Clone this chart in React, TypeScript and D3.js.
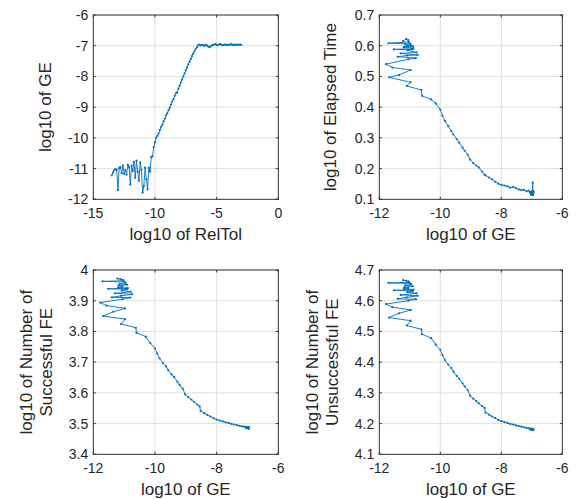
import React from 'react';
import * as d3 from 'd3';

// log10 of RelTol (x of the first panel)
const relTol = [
  -13.5, -13.4, -13.3, -13.2, -13.1, -13.0, -12.9, -12.8, -12.7, -12.6,
  -12.5, -12.4, -12.3, -12.2, -12.1, -12.0, -11.9, -11.8, -11.7, -11.6,
  -11.5, -11.4, -11.3, -11.2, -11.1, -11.0, -10.9, -10.8, -10.7, -10.6,
  -10.5, -10.4, -10.3, -10.2, -10.1, -10.0, -9.9, -9.8, -9.7, -9.6,
  -9.5, -9.4, -9.3, -9.2, -9.1, -9.0, -8.9, -8.8, -8.7, -8.6,
  -8.5, -8.4, -8.3, -8.2, -8.1, -8.0, -7.9, -7.8, -7.7, -7.6,
  -7.5, -7.4, -7.3, -7.2, -7.1, -7.0, -6.9, -6.8, -6.7, -6.6,
  -6.5, -6.4, -6.3, -6.2, -6.1, -6.0, -5.9, -5.8, -5.7, -5.6,
  -5.5, -5.4, -5.3, -5.2, -5.1, -5.0, -4.9, -4.8, -4.7, -4.6,
  -4.5, -4.4, -4.3, -4.2, -4.1, -4.0, -3.9, -3.8, -3.7, -3.6,
  -3.5, -3.4, -3.3, -3.2, -3.1, -3.0,
];

// log10 of GE
const logGE = [
  -11.22, -11.12, -11.05, -11.02, -11.04, -11.70, -10.98, -10.95, -11.15, -10.90,
  -11.18, -11.05, -11.20, -10.88, -10.95, -11.52, -10.90, -11.08, -10.78, -11.30,
  -10.74, -11.10, -11.40, -10.80, -11.05, -11.78, -11.57, -10.97, -11.35, -11.68,
  -10.97, -11.10, -10.62, -10.60, -10.30, -10.15, -10.00, -9.93, -9.85, -9.74,
  -9.64, -9.57, -9.46, -9.38, -9.27, -9.20, -9.10, -9.02, -8.92, -8.82,
  -8.74, -8.63, -8.55, -8.52, -8.40, -8.30, -8.20, -8.10, -8.00, -7.90,
  -7.80, -7.71, -7.61, -7.52, -7.43, -7.34, -7.26, -7.18, -7.11, -7.05,
  -6.99, -6.96, -6.99, -6.97, -6.98, -7.01, -6.97, -6.99, -7.02, -7.05,
  -7.03, -6.99, -6.98, -6.96, -6.95, -6.97, -6.98, -6.96, -6.95, -6.97,
  -6.98, -6.97, -6.96, -6.97, -6.98, -6.96, -6.97, -6.95, -6.97, -6.98,
  -6.96, -6.97, -6.96, -6.97, -6.96, -6.97,
];

// log10 of Elapsed Time
const logTime = [
  0.615, 0.622, 0.618, 0.610, 0.612, 0.608, 0.606, 0.600, 0.604, 0.598,
  0.595, 0.600, 0.596, 0.592, 0.590, 0.588, 0.588, 0.585, 0.578, 0.575,
  0.570, 0.568, 0.564, 0.560, 0.556, 0.540, 0.529, 0.521, 0.505, 0.497,
  0.481, 0.469, 0.456, 0.437, 0.425, 0.412, 0.392, 0.372, 0.355, 0.338,
  0.322, 0.311, 0.296, 0.284, 0.268, 0.258, 0.245, 0.229, 0.218, 0.210,
  0.204, 0.190, 0.180, 0.178, 0.171, 0.165, 0.157, 0.151, 0.147, 0.145,
  0.142, 0.138, 0.140, 0.136, 0.132, 0.130, 0.131, 0.126, 0.128, 0.124,
  0.122, 0.121, 0.118, 0.125, 0.116, 0.122, 0.119, 0.127, 0.114, 0.120,
  0.123, 0.117, 0.121, 0.115, 0.126, 0.119, 0.122, 0.118, 0.124, 0.116,
  0.120, 0.154, 0.121, 0.117, 0.123, 0.119, 0.115, 0.122, 0.118, 0.125,
  0.120, 0.116, 0.121, 0.119, 0.117, 0.120,
];

// log10 of Number of Successful FE
const logSuccFE = [
  3.972, 3.970, 3.968, 3.966, 3.965, 3.963, 3.961, 3.958, 3.955, 3.952,
  3.949, 3.946, 3.943, 3.941, 3.940, 3.939, 3.937, 3.933, 3.929, 3.924,
  3.921, 3.916, 3.911, 3.910, 3.905, 3.894, 3.884, 3.875, 3.864, 3.850,
  3.840, 3.824, 3.812, 3.796, 3.783, 3.762, 3.745, 3.728, 3.712, 3.697,
  3.686, 3.674, 3.660, 3.651, 3.636, 3.626, 3.614, 3.595, 3.586, 3.578,
  3.571, 3.562, 3.556, 3.541, 3.534, 3.528, 3.523, 3.517, 3.513, 3.510,
  3.507, 3.504, 3.502, 3.499, 3.497, 3.495, 3.493, 3.491, 3.490, 3.489,
  3.488, 3.488, 3.487, 3.487, 3.487, 3.487, 3.487, 3.486, 3.486, 3.486,
  3.486, 3.486, 3.486, 3.486, 3.486, 3.486, 3.486, 3.486, 3.486, 3.486,
  3.486, 3.486, 3.485, 3.485, 3.485, 3.485, 3.485, 3.485, 3.485, 3.485,
  3.485, 3.485, 3.485, 3.485, 3.485, 3.485,
];

// log10 of Number of Unsuccessful FE
const logUnsuccFE = [
  4.667, 4.665, 4.663, 4.661, 4.660, 4.658, 4.656, 4.653, 4.650, 4.647,
  4.644, 4.641, 4.638, 4.636, 4.635, 4.634, 4.632, 4.628, 4.624, 4.619,
  4.616, 4.611, 4.606, 4.605, 4.600, 4.589, 4.579, 4.570, 4.559, 4.545,
  4.535, 4.519, 4.507, 4.491, 4.478, 4.457, 4.440, 4.423, 4.407, 4.392,
  4.381, 4.369, 4.355, 4.346, 4.331, 4.321, 4.309, 4.290, 4.281, 4.273,
  4.266, 4.257, 4.251, 4.236, 4.229, 4.223, 4.218, 4.212, 4.208, 4.205,
  4.202, 4.199, 4.197, 4.194, 4.192, 4.190, 4.188, 4.186, 4.185, 4.184,
  4.183, 4.183, 4.182, 4.182, 4.182, 4.182, 4.182, 4.181, 4.181, 4.181,
  4.181, 4.181, 4.181, 4.181, 4.181, 4.181, 4.181, 4.181, 4.181, 4.181,
  4.181, 4.181, 4.180, 4.180, 4.180, 4.180, 4.180, 4.180, 4.180, 4.180,
  4.180, 4.180, 4.180, 4.180, 4.180, 4.180,
];

const xTicksRelTol = [-15, -10, -5, 0];
const xTicksGE = [-12, -10, -8, -6];
const yTicksGE = [-12, -11, -10, -9, -8, -7, -6];
const yTicksTime = [0.1, 0.2, 0.3, 0.4, 0.5, 0.6, 0.7];
const yTicksSucc = [3.4, 3.5, 3.6, 3.7, 3.8, 3.9, 4];
const yTicksUnsucc = [4.1, 4.2, 4.3, 4.4, 4.5, 4.6, 4.7];

const BLUE = '#0072BD';
const AXIS = '#262626';
const GRID = '#dfdfdf';
const FONT = '"Liberation Sans", Arial, Helvetica, sans-serif';

type PanelProps = {
  left: number; right: number; top: number; bottom: number;
  xs: number[]; ys: number[];
  xTicks: number[]; yTicks: number[];
  xLabel: string; yLabel: string[]; yLabelX: number[];
};

function Panel(p: PanelProps) {
  const x = d3.scaleLinear().domain([p.xTicks[0], p.xTicks[p.xTicks.length - 1]]).range([p.left, p.right]);
  const y = d3.scaleLinear().domain([p.yTicks[0], p.yTicks[p.yTicks.length - 1]]).range([p.bottom, p.top]);
  const pts = p.xs.map((v, i) => [v, p.ys[i]] as [number, number]);
  const line = d3.line<[number, number]>().x(d => x(d[0])).y(d => y(d[1]));
  const tl = 2.5;
  const cy = (p.top + p.bottom) / 2;
  return (
    <g>
      {p.xTicks.map(t => (
        <line key={'gx' + t} x1={x(t)} x2={x(t)} y1={p.top} y2={p.bottom} stroke={GRID} strokeWidth={1} />
      ))}
      {p.yTicks.map(t => (
        <line key={'gy' + t} x1={p.left} x2={p.right} y1={y(t)} y2={y(t)} stroke={GRID} strokeWidth={1} />
      ))}
      <path d={line(pts) || ''} fill="none" stroke={BLUE} strokeWidth={0.9} strokeLinejoin="round" />
      {pts.map((d, i) => (
        <circle key={i} cx={x(d[0])} cy={y(d[1])} r={1.1} fill={BLUE} />
      ))}
      <rect x={p.left} y={p.top} width={p.right - p.left} height={p.bottom - p.top} fill="none" stroke={AXIS} strokeWidth={0.9} />
      {p.xTicks.map(t => (
        <g key={'tx' + t}>
          <line x1={x(t)} x2={x(t)} y1={p.bottom} y2={p.bottom - tl} stroke={AXIS} strokeWidth={0.9} />
          <line x1={x(t)} x2={x(t)} y1={p.top} y2={p.top + tl} stroke={AXIS} strokeWidth={0.9} />
          <text x={x(t)} y={p.bottom + 19} textAnchor="middle" fontSize={14} fill={AXIS} fontFamily={FONT}>{String(t)}</text>
        </g>
      ))}
      {p.yTicks.map(t => (
        <g key={'ty' + t}>
          <line x1={p.left} x2={p.left + tl} y1={y(t)} y2={y(t)} stroke={AXIS} strokeWidth={0.9} />
          <line x1={p.right} x2={p.right - tl} y1={y(t)} y2={y(t)} stroke={AXIS} strokeWidth={0.9} />
          <text x={p.left - 5} y={y(t)} dy="0.36em" textAnchor="end" fontSize={14} fill={AXIS} fontFamily={FONT}>{String(t)}</text>
        </g>
      ))}
      <text x={(p.left + p.right) / 2} y={p.bottom + 41} textAnchor="middle" fontSize={17} fill={AXIS} fontFamily={FONT}>{p.xLabel}</text>
      {p.yLabel.map((s, i) => (
        <text key={'yl' + i} transform={`translate(${p.yLabelX[i]},${cy}) rotate(-90)`} dy="0.36em" textAnchor="middle" fontSize={17} fill={AXIS} fontFamily={FONT}>{s}</text>
      ))}
    </g>
  );
}

export default function App() {
  return (
    <svg width={578} height={499} style={{ position: 'absolute', left: 0, top: 0, background: '#fff' }}>
      <rect x={0} y={0} width={578} height={499} fill="#fff" />
      <Panel left={93.3} right={278.3} top={15} bottom={199.3}
        xs={relTol} ys={logGE} xTicks={xTicksRelTol} yTicks={yTicksGE}
        xLabel="log10 of RelTol" yLabel={['log10 of GE']} yLabelX={[45]} />
      <Panel left={379.3} right={562.3} top={15} bottom={199.3}
        xs={logGE} ys={logTime} xTicks={xTicksGE} yTicks={yTicksTime}
        xLabel="log10 of GE" yLabel={['log10 of Elapsed Time']} yLabelX={[330]} />
      <Panel left={93.3} right={278.3} top={270} bottom={454.3}
        xs={logGE} ys={logSuccFE} xTicks={xTicksGE} yTicks={yTicksSucc}
        xLabel="log10 of GE" yLabel={['log10 of Number of', 'Successful FE']} yLabelX={[26, 46]} />
      <Panel left={379.3} right={562.3} top={270} bottom={454.3}
        xs={logGE} ys={logUnsuccFE} xTicks={xTicksGE} yTicks={yTicksUnsucc}
        xLabel="log10 of GE" yLabel={['log10 of Number of', 'Unsuccessful FE']} yLabelX={[312, 332]} />
    </svg>
  );
}
